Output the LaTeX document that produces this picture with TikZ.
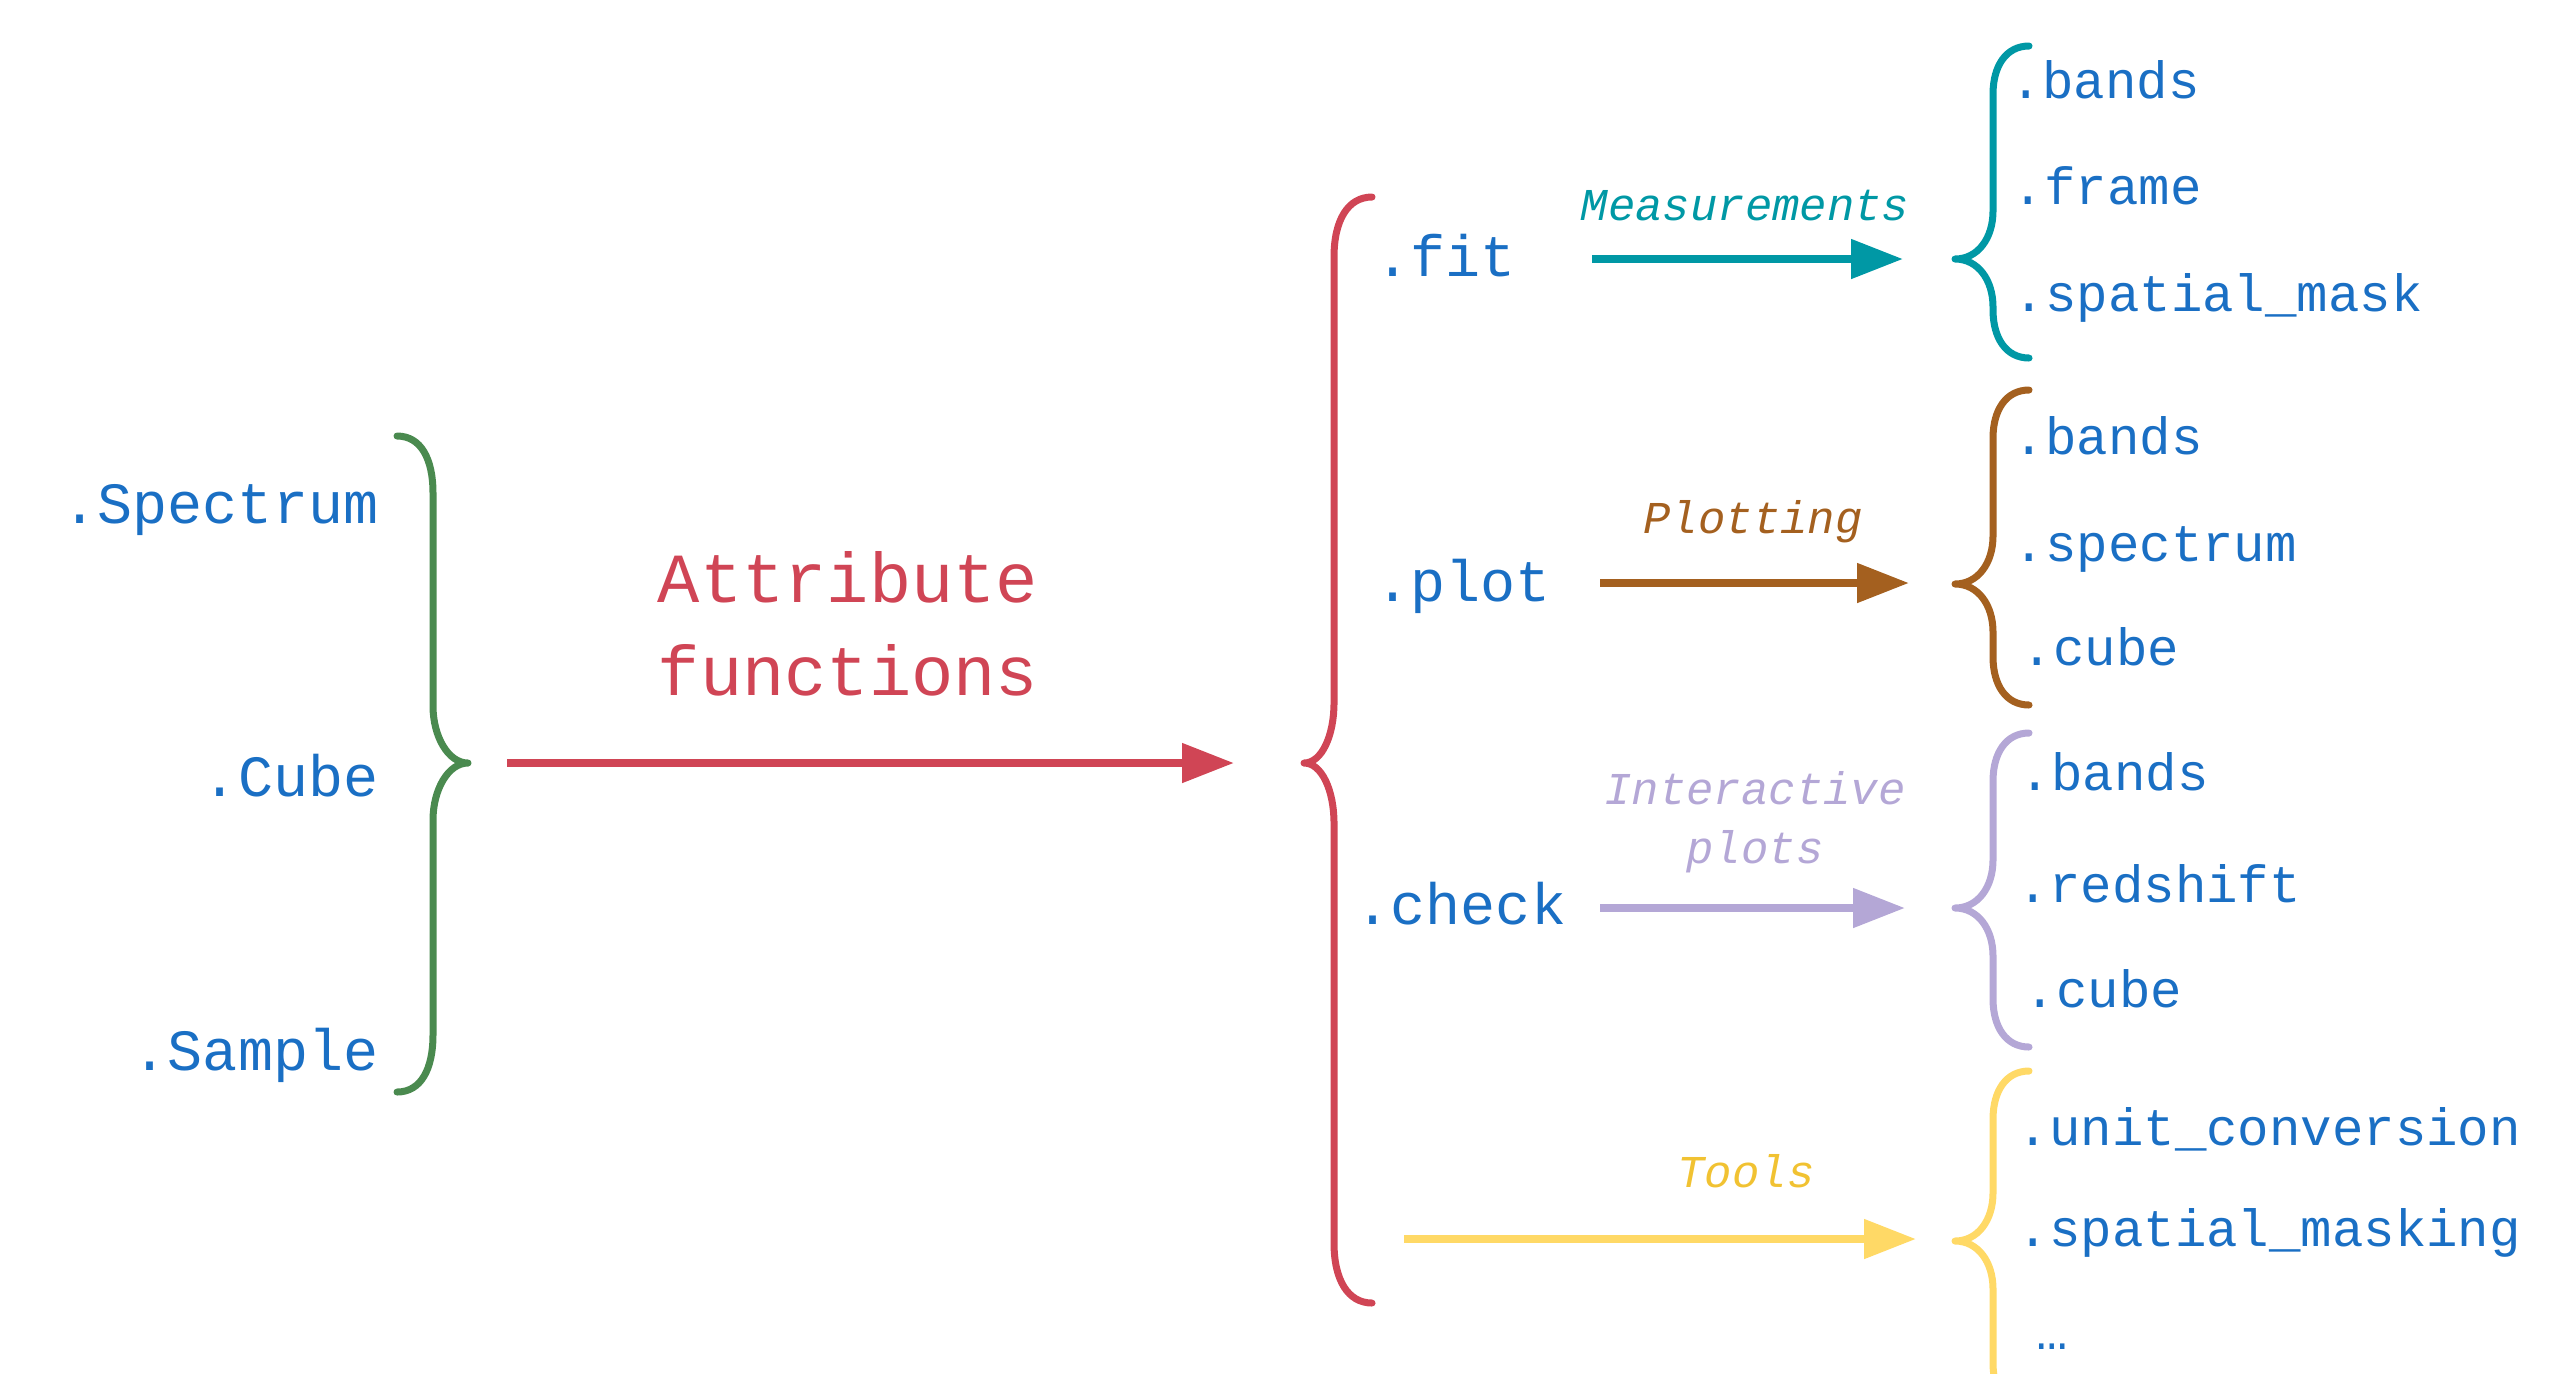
\documentclass[tikz,border=0pt]{standalone}
\usepackage{fontspec}
\setmonofont{Liberation Mono}
\usetikzlibrary{arrows.meta}

\definecolor{fnblue}{RGB}{26,111,196}
\definecolor{attrred}{RGB}{208,69,85}
\definecolor{clsgreen}{RGB}{74,138,79}
\definecolor{fitteal}{RGB}{0,152,165}
\definecolor{plotbrown}{RGB}{164,96,31}
\definecolor{checklilac}{RGB}{180,167,214}
\definecolor{toolline}{RGB}{255,217,102}
\definecolor{tooltext}{RGB}{241,194,50}

\tikzset{
  cls/.style={inner sep=0pt, text=fnblue, font=\ttfamily\fontsize{14.6}{17}\selectfont},
  item/.style={inner sep=0pt, text=fnblue, font=\ttfamily\fontsize{13.1}{16}\selectfont},
  tag/.style={inner sep=0pt, align=center, font=\ttfamily\itshape\fontsize{11.4}{14.75}\selectfont},
  brace/.style={line width=1.75pt, line cap=round, line join=round},
  flow/.style={line width=2pt, -{Triangle[length=13pt,width=9.5pt]}},
}

\begin{document}
\begin{tikzpicture}[x=0.25pt,y=0.25pt,yscale=-1]
\useasboundingbox (0,0) rectangle (2556,1373);

% Text Node
\node [cls, anchor=base east] (spectrum) at (379,523) {.Spectrum};
% Text Node
\node [cls, anchor=base east] (cube) at (379,796) {.Cube};
% Text Node
\node [cls, anchor=base east] (sample) at (379,1070) {.Sample};

%Shape: Brace
\draw [brace, color=clsgreen] (397,436) .. controls (421,436) and (433,459) .. (433,493) -- (433,706) .. controls (433,736) and (448,763) .. (468,763) .. controls (448,763) and (433,790) .. (433,820) -- (433,1035) .. controls (433,1069) and (421,1092) .. (397,1092) ;

% Text Node
\node [inner sep=0pt, align=center, text=attrred, font=\ttfamily\fontsize{17.6}{23.25}\selectfont, anchor=base] (attr) at (848,695) {Attribute\\functions};

\coordinate (attr start) at (507,763);
\coordinate (attr end) at (1234,763);
%Straight Lines
\draw [flow, color=attrred] (attr start) -- (attr end);

%Shape: Brace
\draw [brace, color=attrred] (1372,197) .. controls (1348,197) and (1334,220) .. (1334,257) -- (1334,703) .. controls (1334,735) and (1322,763) .. (1304,763) .. controls (1322,763) and (1334,791) .. (1334,823) -- (1334,1243) .. controls (1334,1280) and (1348,1303) .. (1372,1303) ;

% Text Node
\node [cls, anchor=base west] (fit) at (1375,276) {.fit};
% Text Node
\node [cls, anchor=base west] (plot) at (1375,601) {.plot};
% Text Node
\node [cls, anchor=base west] (check) at (1355,924) {.check};

% Text Node
\node [tag, text=fitteal, anchor=base] (meas) at (1745,220) {Measurements};
% Text Node
\node [tag, text=plotbrown, anchor=base] (plotting) at (1753,533) {Plotting};
% Text Node
\node [tag, text=checklilac, anchor=base] (inter) at (1755,863) {Interactive\\plots};
% Text Node
\node [tag, text=tooltext, anchor=base] (tools) at (1746,1187) {Tools};

\coordinate (fit start) at (1592,259);
\coordinate (fit end) at (1903,259);
\coordinate (plot start) at (1600,583);
\coordinate (plot end) at (1909,583);
\coordinate (check start) at (1600,908);
\coordinate (check end) at (1905,908);
\coordinate (tool start) at (1404,1239);
\coordinate (tool end) at (1916,1239);

%Straight Lines
\draw [flow, color=fitteal] (fit start) -- (fit end);
%Straight Lines
\draw [flow, color=plotbrown] (plot start) -- (plot end);
%Straight Lines
\draw [flow, color=checklilac] (check start) -- (check end);
%Straight Lines
\draw [flow, color=toolline] (tool start) -- (tool end);

%Shape: Brace
\draw [brace, color=fitteal] (2029,46) .. controls (2006,46) and (1993,66) .. (1993,94) -- (1993,211) .. controls (1993,238) and (1978,259) .. (1955,259) .. controls (1978,259) and (1993,280) .. (1993,307) -- (1993,310) .. controls (1993,338) and (2006,358) .. (2029,358) ;
%Shape: Brace
\draw [brace, color=plotbrown] (2029,390) .. controls (2006,390) and (1993,410) .. (1993,438) -- (1993,536) .. controls (1993,563) and (1978,584) .. (1955,584) .. controls (1978,584) and (1993,605) .. (1993,632) -- (1993,657) .. controls (1993,685) and (2006,705) .. (2029,705) ;
%Shape: Brace
\draw [brace, color=checklilac] (2029,733) .. controls (2006,733) and (1993,753) .. (1993,781) -- (1993,860) .. controls (1993,887) and (1978,908) .. (1955,908) .. controls (1978,908) and (1993,929) .. (1993,956) -- (1993,999) .. controls (1993,1027) and (2006,1047) .. (2029,1047) ;
%Shape: Brace
\draw [brace, color=toolline] (2029,1071) .. controls (2006,1071) and (1993,1091) .. (1993,1119) -- (1993,1193) .. controls (1993,1220) and (1978,1241) .. (1955,1241) .. controls (1978,1241) and (1993,1262) .. (1993,1289) -- (1993,1363) .. controls (1993,1391) and (2006,1411) .. (2029,1411) ;

% Text Node
\node [item, anchor=base west] (fit bands) at (2010,98) {.bands};
% Text Node
\node [item, anchor=base west] (fit frame) at (2012,204) {.frame};
% Text Node
\node [item, anchor=base west] (fit mask) at (2013,311) {.spatial\_mask};

% Text Node
\node [item, anchor=base west] (plot bands) at (2013,454) {.bands};
% Text Node
\node [item, anchor=base west] (plot spectrum) at (2013,561) {.spectrum};
% Text Node
\node [item, anchor=base west] (plot cube) at (2021,665) {.cube};

% Text Node
\node [item, anchor=base west] (check bands) at (2019,790) {.bands};
% Text Node
\node [item, anchor=base west] (check redshift) at (2017,902) {.redshift};
% Text Node
\node [item, anchor=base west] (check cube) at (2024,1007) {.cube};

% Text Node
\node [item, anchor=base west] (tool units) at (2017,1145) {.unit\_conversion};
% Text Node
\node [item, anchor=base west] (tool masking) at (2017,1246) {.spatial\_masking};
% Text Node
\node [item, anchor=base west] (tool more) at (2036,1349) {…};

\end{tikzpicture}
\end{document}
